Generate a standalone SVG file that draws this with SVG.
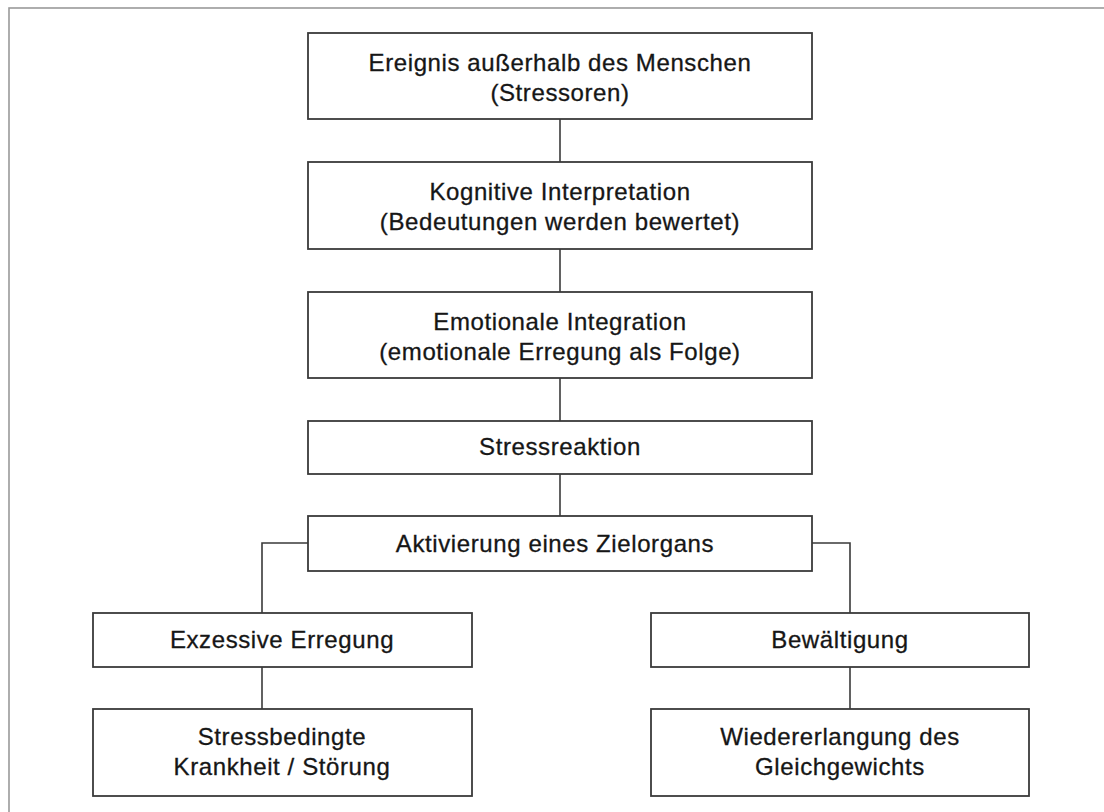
<svg xmlns="http://www.w3.org/2000/svg" width="1104" height="812" viewBox="0 0 1104 812">
<style>
.frame{fill:none;stroke:#9a9a9a;stroke-width:1.6}
.box{fill:#fff;stroke:#3a3a3a;stroke-width:1.8}
.conn{fill:none;stroke:#3a3a3a;stroke-width:1.6}
text{font-family:"Liberation Sans",Arial,sans-serif;font-size:24px;fill:#161616;stroke:#161616;stroke-width:0.3;text-anchor:middle;letter-spacing:0.6px}
</style>
<rect width="1104" height="812" fill="#fff"/>
<rect class="frame" x="9" y="8" width="1120" height="830"/>
<g id="connectors">
<line class="conn" x1="560" y1="119" x2="560" y2="162"/>
<line class="conn" x1="560" y1="249" x2="560" y2="292"/>
<line class="conn" x1="560" y1="378" x2="560" y2="421"/>
<line class="conn" x1="560" y1="474" x2="560" y2="516"/>
<polyline class="conn" points="308,543 262,543 262,613"/>
<polyline class="conn" points="812,543 850,543 850,613"/>
<line class="conn" x1="262" y1="667" x2="262" y2="709"/>
<line class="conn" x1="850" y1="667" x2="850" y2="709"/>
</g>
<g id="n1"><rect class="box" x="308" y="33" width="504" height="86"/><text x="560" y="71">Ereignis außerhalb des Menschen</text><text x="560" y="101">(Stressoren)</text></g>
<g id="n2"><rect class="box" x="308" y="162" width="504" height="87"/><text x="560" y="200">Kognitive Interpretation</text><text x="560" y="230">(Bedeutungen werden bewertet)</text></g>
<g id="n3"><rect class="box" x="308" y="292" width="504" height="86"/><text x="560" y="330">Emotionale Integration</text><text x="560" y="360">(emotionale Erregung als Folge)</text></g>
<g id="n4"><rect class="box" x="308" y="421" width="504" height="53"/><text x="560" y="455">Stressreaktion</text></g>
<g id="n5"><rect class="box" x="308" y="516" width="504" height="55"/><text x="555" y="552">Aktivierung eines Zielorgans</text></g>
<g id="n6"><rect class="box" x="93" y="613" width="379" height="54"/><text x="282" y="648">Exzessive Erregung</text></g>
<g id="n7"><rect class="box" x="651" y="613" width="378" height="54"/><text x="840" y="648">Bewältigung</text></g>
<g id="n8"><rect class="box" x="93" y="709" width="379" height="87"/><text x="282" y="745">Stressbedingte</text><text x="282" y="775">Krankheit / Störung</text></g>
<g id="n9"><rect class="box" x="651" y="709" width="378" height="87"/><text x="840" y="745">Wiedererlangung des</text><text x="840" y="775">Gleichgewichts</text></g>
</svg>
